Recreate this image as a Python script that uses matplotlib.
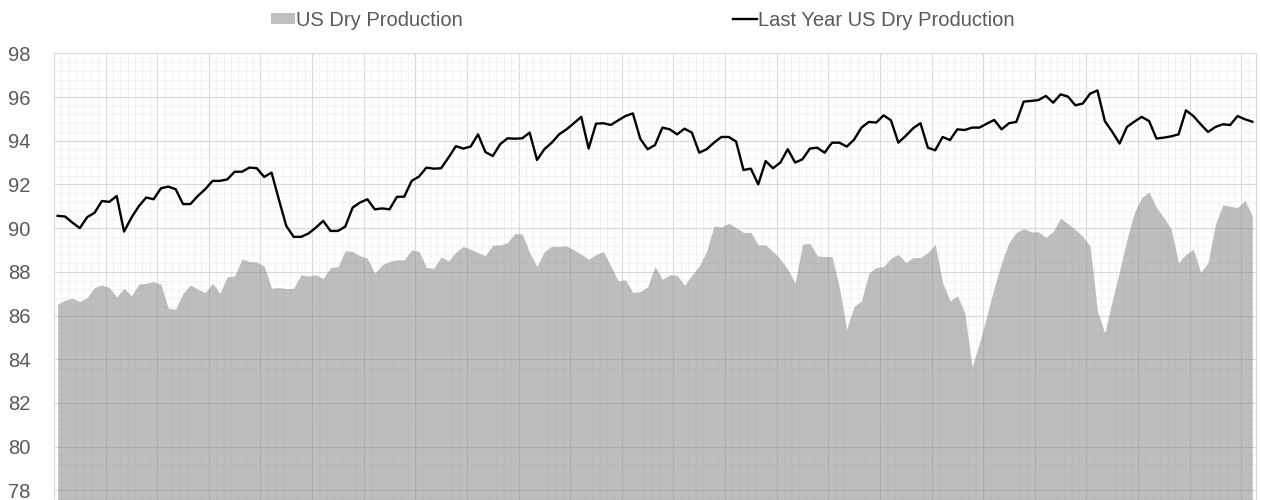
import matplotlib.pyplot as plt
from matplotlib.patches import Patch
from matplotlib.lines import Line2D
import numpy as np

plt.rcParams['font.family'] = ['Liberation Sans', 'DejaVu Sans']

# weekly values
us_dry_production = [
    86.52, 86.70, 86.79, 86.64, 86.82, 87.28, 87.40, 87.28, 86.85, 87.25,
    86.90, 87.43, 87.48, 87.55, 87.43, 86.32, 86.29, 87.02, 87.40, 87.20,
    87.05, 87.48, 87.02, 87.77, 87.81, 88.58, 88.47, 88.45, 88.26, 87.25,
    87.28, 87.23, 87.25, 87.86, 87.81, 87.86, 87.69, 88.20, 88.23, 88.96,
    88.93, 88.73, 88.62, 87.92, 88.32, 88.48, 88.55, 88.55, 89.00, 88.93,
    88.20, 88.16, 88.68, 88.50, 88.90, 89.16, 89.03, 88.87, 88.74, 89.22,
    89.23, 89.34, 89.75, 89.73, 88.88, 88.24, 88.93, 89.17, 89.16, 89.19,
    89.00, 88.80, 88.58, 88.79, 88.93, 88.27, 87.59, 87.63, 87.05, 87.10,
    87.31, 88.25, 87.66, 87.86, 87.84, 87.39, 87.84, 88.27, 88.93, 90.10,
    90.05, 90.22, 90.02, 89.80, 89.80, 89.23, 89.23, 88.93, 88.58, 88.12,
    87.48, 89.26, 89.30, 88.73, 88.70, 88.70, 87.28, 85.37, 86.42, 86.67,
    87.94, 88.20, 88.24, 88.62, 88.80, 88.42, 88.65, 88.65, 88.88, 89.26,
    87.51, 86.67, 86.90, 86.14, 83.65, 84.75, 85.98, 87.28, 88.42, 89.34,
    89.80, 89.98, 89.83, 89.83, 89.57, 89.85, 90.45, 90.20, 89.93, 89.62,
    89.19, 86.20, 85.20, 86.67, 88.04, 89.49, 90.71, 91.40, 91.65, 90.94,
    90.48, 89.95, 88.42, 88.80, 89.03, 87.97, 88.42, 90.18, 91.06, 91.00,
    90.94, 91.27, 90.56,
]

last_year_production = [
    90.56, 90.53, 90.25, 90.00, 90.50, 90.70, 91.24, 91.20, 91.47, 89.84,
    90.48, 91.00, 91.40, 91.32, 91.82, 91.90, 91.78, 91.10, 91.10, 91.47,
    91.78, 92.16, 92.16, 92.23, 92.58, 92.58, 92.77, 92.74, 92.34, 92.54,
    91.30, 90.10, 89.60, 89.60, 89.75, 90.02, 90.33, 89.87, 89.87, 90.07,
    90.94, 91.17, 91.32, 90.86, 90.90, 90.86, 91.43, 91.44, 92.16, 92.36,
    92.77, 92.72, 92.74, 93.23, 93.75, 93.64, 93.73, 94.29, 93.48, 93.30,
    93.84, 94.11, 94.09, 94.11, 94.37, 93.12, 93.61, 93.91, 94.29, 94.52,
    94.80, 95.09, 93.64, 94.78, 94.80, 94.72, 94.93, 95.13, 95.25, 94.09,
    93.61, 93.80, 94.60, 94.52, 94.29, 94.55, 94.37, 93.45, 93.61, 93.91,
    94.17, 94.17, 93.96, 92.66, 92.72, 92.00, 93.07, 92.74, 93.00, 93.61,
    93.00, 93.15, 93.64, 93.68, 93.45, 93.91, 93.91, 93.73, 94.05, 94.60,
    94.86, 94.83, 95.16, 94.93, 93.91, 94.22, 94.57, 94.80, 93.68, 93.56,
    94.17, 94.03, 94.52, 94.49, 94.60, 94.60, 94.78, 94.95, 94.52, 94.80,
    94.86, 95.79, 95.82, 95.86, 96.05, 95.74, 96.12, 96.02, 95.62, 95.70,
    96.15, 96.30, 94.90, 94.41, 93.87, 94.63, 94.87, 95.09, 94.90, 94.10,
    94.14, 94.20, 94.29, 95.39, 95.13, 94.75, 94.40, 94.63, 94.75, 94.72,
    95.13, 94.98, 94.87,
]

y_ticks = [78, 80, 82, 84, 86, 88, 90, 92, 94, 96, 98]


def plot_production():
    n = len(us_dry_production)
    x = np.arange(n)

    fig = plt.figure(figsize=(12.61, 5), dpi=100)
    ax = fig.add_axes([54 / 1261, -0.068, 1202 / 1261, 0.9614])

    ax.fill_between(x, us_dry_production, 70, color='#7f7f7f', alpha=0.5,
                    linewidth=0, zorder=2)
    ax.plot(x, last_year_production, color='black', linewidth=1.7, zorder=4)

    ax.set_xlim(-0.5, n - 0.5)
    ax.set_ylim(76, 98)

    # category grid: a minor line every week, a major one every 7
    ax.set_xticks(np.arange(-0.5, n, 7))
    ax.set_xticks(np.arange(-0.5, n, 1), minor=True)
    ax.set_yticks(y_ticks)
    ax.set_yticks(np.arange(76, 98.01, 0.4), minor=True)
    ax.set_xticklabels([])

    ax.grid(which='minor', color='#f2f2f2', linewidth=0.8, zorder=0)
    ax.grid(which='major', color='#d9d9d9', linewidth=0.8, zorder=1)
    ax.set_axisbelow(True)

    ax.tick_params(which='both', length=0)
    ax.tick_params(axis='y', labelsize=14.5, labelcolor='#595959', pad=17)

    for side in ['top', 'bottom', 'left']:
        ax.spines[side].set_visible(False)
    ax.spines['right'].set_color('#d9d9d9')
    ax.spines['right'].set_linewidth(0.8)

    handles = [Patch(facecolor='#bfbfbf', edgecolor='none'),
               Line2D([0], [0], color='black', linewidth=1.7)]
    labels = ['US Dry Production', 'Last Year US Dry Production']
    fig.legend(handles, labels, loc='center left',
               bbox_to_anchor=(271 / 1261, 1 - 20 / 500), ncol=2,
               frameon=False, fontsize=14.5, labelcolor='#595959',
               handlelength=1.2, handleheight=0.5, handletextpad=0.05,
               columnspacing=13.4, borderpad=0, borderaxespad=0)

    plt.savefig('out.png', dpi=100)


if __name__ == "__main__":
    plot_production()
